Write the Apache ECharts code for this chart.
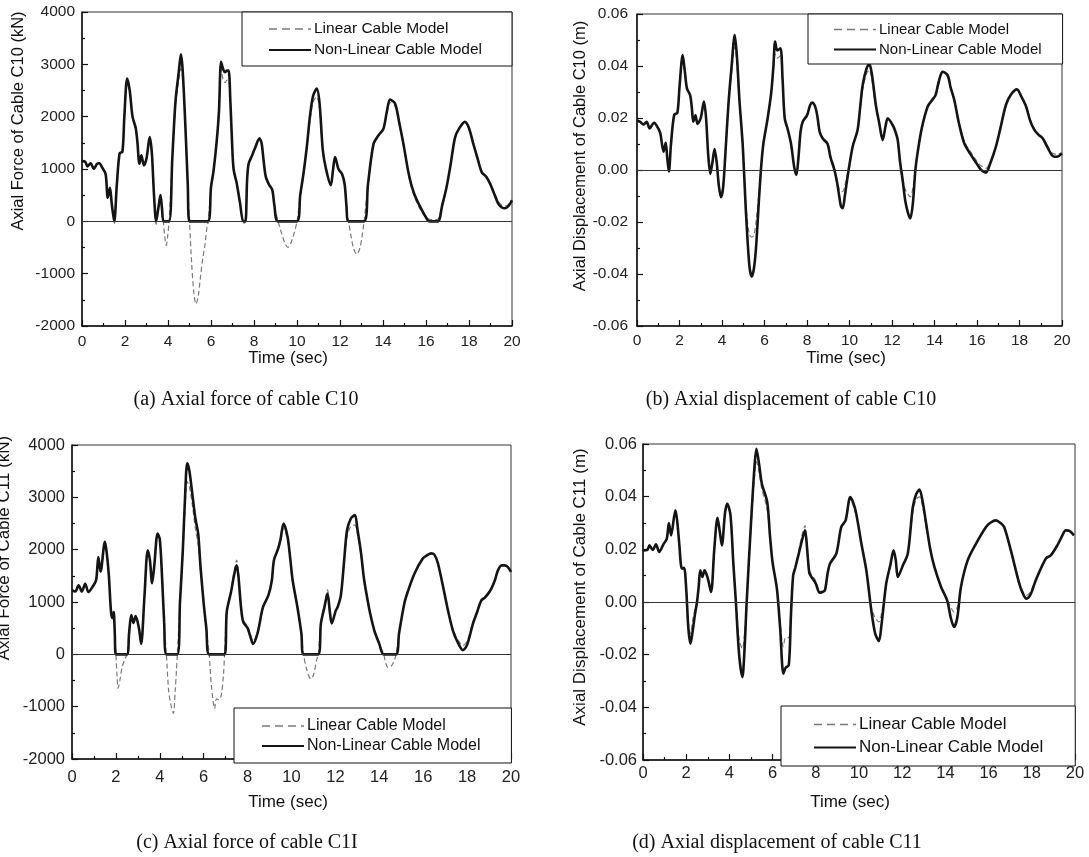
<!DOCTYPE html>
<html>
<head>
<meta charset="utf-8">
<script src="https://cdn.jsdelivr.net/npm/echarts@6/dist/echarts.min.js"></script>
<style>
  html, body { margin: 0; padding: 0; background: #fff; }
  #chart { width: 1089px; height: 857px; }
</style>
</head>
<body>
<div id="chart"></div>
<script>
// time in sec
var linearLabel = 'Linear Cable Model';
var nonLinearLabel = 'Non-Linear Cable Model';

var forceC10NonLinear = [[0,1150],[0.15,1140],[0.25,1050],[0.4,1110],[0.55,1000],[0.7,1100],[0.8,1110],[0.95,1020],[1.1,900],[1.2,450],[1.3,640],[1.38,350],[1.5,0],[1.62,700],[1.75,1300],[1.88,1330],[1.97,2000],[2.1,2730],[2.22,2500],[2.35,2000],[2.5,1780],[2.58,1500],[2.67,1100],[2.76,1260],[2.88,1070],[3.0,1200],[3.15,1610],[3.25,1300],[3.35,500],[3.45,0],[3.55,250],[3.65,500],[3.72,250],[3.8,0],[4.05,0],[4.2,1200],[4.35,2300],[4.5,2850],[4.6,3190],[4.68,2900],[4.8,1900],[4.92,700],[5.0,0],[5.85,0],[6.0,650],[6.12,970],[6.27,1550],[6.37,2100],[6.47,3050],[6.57,2900],[6.65,2850],[6.75,2880],[6.82,2880],[6.9,2300],[6.98,1500],[7.05,1000],[7.2,720],[7.35,350],[7.5,0],[7.6,0],[7.68,800],[7.75,1100],[7.9,1250],[8.05,1400],[8.25,1580],[8.35,1500],[8.45,1150],[8.55,850],[8.7,700],[8.85,600],[8.95,300],[9.12,0],[10.0,0],[10.15,500],[10.3,910],[10.45,1400],[10.6,2000],[10.75,2400],[10.92,2535],[11.05,2250],[11.2,1360],[11.35,1000],[11.57,690],[11.68,1000],[11.77,1230],[11.93,1000],[12.1,900],[12.22,700],[12.3,300],[12.4,0],[13.12,0],[13.3,700],[13.56,1480],[13.8,1650],[14.02,1770],[14.18,2100],[14.33,2325],[14.56,2250],[14.75,1900],[14.95,1480],[15.2,900],[15.42,560],[15.7,300],[16.05,40],[16.15,0],[16.55,0],[16.75,300],[16.96,660],[17.15,1100],[17.35,1600],[17.55,1780],[17.81,1900],[18.0,1780],[18.2,1480],[18.4,1200],[18.59,940],[18.8,850],[18.98,720],[19.15,550],[19.36,340],[19.55,260],[19.67,250],[19.85,300],[20,400]];
var forceC10Linear = [[0,1150],[0.15,1140],[0.25,1050],[0.4,1110],[0.55,1000],[0.7,1100],[0.8,1110],[0.95,1020],[1.1,900],[1.2,450],[1.3,640],[1.38,330],[1.5,-50],[1.62,680],[1.75,1300],[1.88,1330],[1.97,1980],[2.1,2700],[2.22,2480],[2.35,2000],[2.5,1760],[2.58,1500],[2.67,1100],[2.76,1250],[2.88,1070],[3.0,1200],[3.15,1590],[3.25,1300],[3.35,480],[3.45,-60],[3.55,240],[3.65,480],[3.72,230],[3.78,0],[3.85,-300],[3.92,-460],[3.98,-300],[4.05,0],[4.2,1150],[4.35,2200],[4.5,2700],[4.6,2920],[4.68,2750],[4.8,1850],[4.92,650],[5.0,0],[5.1,-800],[5.2,-1350],[5.3,-1580],[5.4,-1450],[5.5,-1100],[5.62,-700],[5.72,-450],[5.8,-150],[5.87,0],[6.0,630],[6.12,950],[6.27,1500],[6.37,2050],[6.47,2900],[6.57,2700],[6.65,2650],[6.75,2700],[6.82,2700],[6.9,2250],[6.98,1480],[7.05,1000],[7.2,720],[7.35,330],[7.5,-50],[7.6,0],[7.68,780],[7.75,1100],[7.9,1260],[8.05,1420],[8.25,1600],[8.35,1520],[8.45,1180],[8.55,880],[8.7,720],[8.85,600],[8.95,300],[9.12,0],[9.3,-250],[9.45,-430],[9.58,-500],[9.7,-430],[9.85,-250],[10.0,0],[10.15,480],[10.3,880],[10.45,1350],[10.6,1900],[10.75,2280],[10.92,2380],[11.05,2150],[11.2,1340],[11.35,1000],[11.57,700],[11.68,1000],[11.77,1200],[11.93,1000],[12.1,880],[12.22,680],[12.3,280],[12.4,0],[12.5,-250],[12.62,-500],[12.78,-630],[12.92,-520],[13.02,-300],[13.12,0],[13.3,680],[13.56,1450],[13.8,1630],[14.02,1760],[14.18,2050],[14.33,2270],[14.56,2200],[14.75,1870],[14.95,1450],[15.2,850],[15.42,520],[15.7,250],[16.05,60],[16.3,30],[16.55,40],[16.75,340],[16.96,680],[17.15,1100],[17.35,1600],[17.55,1780],[17.81,1890],[18.0,1780],[18.2,1490],[18.4,1220],[18.59,970],[18.8,870],[18.98,740],[19.15,580],[19.36,380],[19.55,300],[19.67,290],[19.85,330],[20,420]];

var dispC10NonLinear = [[0,0.019],[0.15,0.0185],[0.3,0.0175],[0.45,0.0185],[0.6,0.016],[0.8,0.0182],[1.0,0.016],[1.1,0.014],[1.25,0.007],[1.35,0.0105],[1.42,0.005],[1.5,-0.0006],[1.6,0.01],[1.75,0.0212],[1.9,0.022],[2.0,0.032],[2.15,0.0442],[2.25,0.038],[2.35,0.0314],[2.5,0.0288],[2.58,0.024],[2.65,0.0186],[2.75,0.021],[2.85,0.0177],[3.0,0.020],[3.15,0.0263],[3.25,0.02],[3.35,0.006],[3.45,-0.0015],[3.55,0.003],[3.65,0.0081],[3.75,0.003],[3.85,-0.006],[3.95,-0.0105],[4.05,-0.007],[4.15,0.005],[4.3,0.025],[4.45,0.0397],[4.6,0.0519],[4.7,0.044],[4.82,0.027],[4.97,0.0103],[5.05,-0.003],[5.13,-0.0167],[5.29,-0.037],[5.4,-0.041],[5.5,-0.038],[5.6,-0.03],[5.75,-0.01],[5.85,0.002],[5.95,0.0103],[6.15,0.02],[6.32,0.03],[6.42,0.04],[6.5,0.0494],[6.6,0.046],[6.75,0.0468],[6.85,0.035],[6.95,0.02],[7.1,0.0154],[7.25,0.01],[7.4,0.001],[7.5,-0.0019],[7.6,0.005],[7.7,0.015],[7.8,0.0186],[8.0,0.021],[8.15,0.025],[8.25,0.0259],[8.4,0.024],[8.5,0.02],[8.6,0.0145],[8.75,0.012],[8.97,0.010],[9.1,0.005],[9.29,0],[9.42,-0.005],[9.52,-0.0103],[9.6,-0.014],[9.68,-0.0147],[9.78,-0.01],[9.91,-0.0026],[10.15,0.009],[10.38,0.0154],[10.5,0.024],[10.62,0.0327],[10.8,0.039],[10.93,0.0408],[11.05,0.037],[11.25,0.0244],[11.4,0.018],[11.56,0.0115],[11.7,0.017],[11.8,0.0199],[12.03,0.0173],[12.15,0.015],[12.27,0.0115],[12.38,0.003],[12.5,-0.0038],[12.65,-0.013],[12.86,-0.0186],[12.98,-0.013],[13.1,0.0],[13.2,0.0064],[13.4,0.016],[13.68,0.0244],[13.9,0.027],[14.05,0.0288],[14.2,0.034],[14.38,0.0378],[14.62,0.0365],[14.75,0.032],[14.93,0.0269],[15.15,0.018],[15.4,0.0103],[15.7,0.006],[16.03,0.0019],[16.2,0.0],[16.42,-0.001],[16.6,0.002],[16.89,0.009],[17.1,0.016],[17.36,0.025],[17.6,0.029],[17.88,0.031],[18.1,0.028],[18.31,0.0244],[18.5,0.019],[18.7,0.0154],[18.9,0.0135],[19.09,0.0122],[19.3,0.009],[19.5,0.006],[19.64,0.0051],[19.8,0.0052],[20.0,0.0064]];
var dispC10Linear = [[0,0.019],[0.15,0.0185],[0.3,0.0175],[0.45,0.0185],[0.6,0.016],[0.8,0.0182],[1.0,0.016],[1.1,0.014],[1.25,0.007],[1.35,0.0105],[1.42,0.005],[1.5,-0.0006],[1.6,0.01],[1.75,0.0212],[1.9,0.022],[2.0,0.032],[2.15,0.0438],[2.25,0.038],[2.35,0.0314],[2.5,0.0288],[2.58,0.024],[2.65,0.0186],[2.75,0.021],[2.85,0.0177],[3.0,0.020],[3.15,0.026],[3.25,0.02],[3.35,0.006],[3.45,-0.0015],[3.55,0.003],[3.65,0.008],[3.75,0.003],[3.85,-0.005],[3.95,-0.0095],[4.05,-0.006],[4.15,0.005],[4.3,0.024],[4.45,0.037],[4.6,0.0474],[4.7,0.041],[4.82,0.026],[4.97,0.0103],[5.05,-0.003],[5.15,-0.016],[5.28,-0.0245],[5.4,-0.0258],[5.5,-0.025],[5.6,-0.02],[5.75,-0.008],[5.85,0.002],[5.95,0.0103],[6.15,0.02],[6.32,0.03],[6.42,0.038],[6.5,0.0445],[6.6,0.043],[6.75,0.044],[6.85,0.034],[6.95,0.02],[7.1,0.0154],[7.25,0.01],[7.4,0.001],[7.5,-0.0015],[7.6,0.005],[7.7,0.015],[7.8,0.0186],[8.0,0.021],[8.15,0.025],[8.25,0.0262],[8.4,0.024],[8.5,0.02],[8.6,0.015],[8.75,0.0125],[8.97,0.0105],[9.1,0.006],[9.29,0.001],[9.42,-0.004],[9.52,-0.0075],[9.6,-0.0083],[9.68,-0.0083],[9.78,-0.006],[9.91,-0.001],[10.15,0.009],[10.38,0.0154],[10.5,0.023],[10.62,0.031],[10.8,0.037],[10.93,0.0385],[11.05,0.035],[11.25,0.0235],[11.4,0.018],[11.56,0.012],[11.7,0.017],[11.8,0.0195],[12.03,0.017],[12.15,0.015],[12.27,0.012],[12.38,0.004],[12.5,-0.003],[12.65,-0.008],[12.86,-0.0103],[12.98,-0.007],[13.1,0.001],[13.2,0.0066],[13.4,0.016],[13.68,0.0244],[13.9,0.027],[14.05,0.0288],[14.2,0.033],[14.38,0.037],[14.62,0.0358],[14.75,0.032],[14.93,0.027],[15.15,0.0185],[15.4,0.011],[15.7,0.007],[16.03,0.003],[16.2,0.0015],[16.42,0.0006],[16.6,0.0025],[16.89,0.009],[17.1,0.016],[17.36,0.025],[17.6,0.029],[17.88,0.031],[18.1,0.028],[18.31,0.0248],[18.5,0.0195],[18.7,0.0158],[18.9,0.0138],[19.09,0.0125],[19.3,0.0095],[19.5,0.0068],[19.64,0.0062],[19.8,0.006],[20.0,0.0068]];

var forceC11NonLinear = [[0,1225],[0.15,1200],[0.3,1320],[0.45,1200],[0.6,1350],[0.75,1190],[0.95,1300],[1.1,1420],[1.2,1860],[1.3,1580],[1.5,2150],[1.58,1950],[1.68,1500],[1.78,800],[1.85,690],[1.9,810],[1.95,400],[2.0,0],[2.5,0],[2.6,400],[2.7,750],[2.8,600],[2.9,730],[3.05,500],[3.15,200],[3.3,1100],[3.45,1990],[3.55,1800],[3.65,1360],[3.75,1700],[3.9,2310],[4.0,2200],[4.1,1500],[4.2,600],[4.3,0],[4.8,0],[4.92,1000],[5.05,2000],[5.15,3000],[5.25,3650],[5.35,3500],[5.5,3000],[5.62,2600],[5.75,2300],[5.85,1700],[6.0,970],[6.12,500],[6.25,0],[6.95,0],[7.05,810],[7.25,1200],[7.4,1550],[7.5,1700],[7.58,1500],[7.7,900],[7.8,620],[8.0,500],[8.12,350],[8.25,200],[8.45,400],[8.7,900],[8.95,1130],[9.1,1400],[9.2,1800],[9.39,2020],[9.5,2200],[9.64,2500],[9.82,2245],[9.95,1800],[10.05,1420],[10.27,900],[10.45,400],[10.55,0],[11.22,0],[11.34,590],[11.5,900],[11.64,1160],[11.75,800],[11.83,590],[12.02,840],[12.1,900],[12.25,1130],[12.4,1800],[12.53,2370],[12.71,2600],[12.89,2660],[13.0,2400],[13.17,1930],[13.3,1450],[13.47,1030],[13.6,750],[13.77,460],[14.0,200],[14.2,0],[14.76,0],[14.9,400],[15.14,970],[15.3,1200],[15.6,1540],[15.98,1830],[16.2,1900],[16.36,1930],[16.5,1910],[16.67,1740],[16.97,1160],[17.15,800],[17.35,460],[17.55,250],[17.81,80],[18.0,180],[18.27,590],[18.45,800],[18.65,1030],[18.8,1080],[18.96,1160],[19.1,1250],[19.27,1420],[19.4,1600],[19.57,1700],[19.7,1700],[19.85,1670],[20.0,1576]];
var forceC11Linear = [[0,1225],[0.15,1200],[0.3,1320],[0.45,1200],[0.6,1350],[0.75,1190],[0.95,1300],[1.1,1420],[1.2,1840],[1.3,1580],[1.5,2120],[1.58,1950],[1.68,1500],[1.78,800],[1.85,690],[1.9,810],[1.95,400],[2.0,0],[2.05,-400],[2.1,-650],[2.18,-500],[2.28,-250],[2.4,-100],[2.5,0],[2.6,400],[2.7,750],[2.8,600],[2.9,730],[3.05,500],[3.15,200],[3.3,1100],[3.45,1970],[3.55,1800],[3.65,1360],[3.75,1700],[3.9,2290],[4.0,2200],[4.1,1500],[4.2,600],[4.3,0],[4.4,-680],[4.5,-950],[4.62,-1130],[4.7,-700],[4.76,-300],[4.8,0],[4.92,950],[5.05,1900],[5.15,2800],[5.25,3300],[5.35,3200],[5.5,2800],[5.62,2400],[5.75,2100],[5.85,1600],[6.0,950],[6.12,480],[6.25,0],[6.35,-600],[6.5,-1040],[6.58,-850],[6.7,-870],[6.8,-780],[6.9,-400],[6.95,0],[7.05,820],[7.25,1250],[7.4,1620],[7.5,1800],[7.58,1580],[7.7,950],[7.8,660],[8.0,540],[8.12,380],[8.25,250],[8.45,420],[8.7,900],[8.95,1130],[9.1,1400],[9.2,1780],[9.39,2000],[9.5,2150],[9.64,2400],[9.82,2200],[9.95,1780],[10.05,1400],[10.27,880],[10.45,380],[10.55,0],[10.7,-300],[10.88,-470],[11.0,-400],[11.15,-100],[11.22,0],[11.34,620],[11.5,950],[11.64,1230],[11.75,830],[11.83,600],[12.02,840],[12.1,900],[12.25,1130],[12.4,1750],[12.53,2250],[12.71,2450],[12.89,2470],[13.0,2300],[13.17,1880],[13.3,1420],[13.47,1030],[13.6,760],[13.77,470],[14.0,200],[14.2,0],[14.3,-180],[14.4,-250],[14.55,-220],[14.7,-100],[14.76,0],[14.9,400],[15.14,970],[15.3,1200],[15.6,1540],[15.98,1830],[16.2,1900],[16.36,1930],[16.5,1910],[16.67,1740],[16.97,1160],[17.15,800],[17.35,480],[17.55,300],[17.81,170],[18.0,250],[18.27,620],[18.45,820],[18.65,1050],[18.8,1100],[18.96,1170],[19.1,1260],[19.27,1420],[19.4,1600],[19.57,1700],[19.7,1700],[19.85,1670],[20.0,1576]];

var dispC11NonLinear = [[0,0.0196],[0.2,0.0198],[0.3,0.0215],[0.45,0.0198],[0.6,0.0219],[0.75,0.019],[0.95,0.022],[1.1,0.024],[1.2,0.030],[1.3,0.0253],[1.5,0.0348],[1.58,0.031],[1.68,0.022],[1.8,0.0127],[1.9,0.013],[2.0,0.005],[2.1,-0.01],[2.2,-0.0158],[2.3,-0.011],[2.4,-0.005],[2.5,0.0],[2.58,0.006],[2.65,0.012],[2.75,0.0095],[2.85,0.012],[3.0,0.009],[3.15,0.0038],[3.3,0.02],[3.45,0.032],[3.55,0.027],[3.65,0.0215],[3.8,0.034],[3.9,0.0373],[4.05,0.033],[4.18,0.015],[4.3,0.0],[4.45,-0.02],[4.6,-0.0285],[4.7,-0.018],[4.8,0.0],[5.0,0.03],[5.15,0.05],[5.25,0.0582],[5.38,0.052],[5.5,0.045],[5.75,0.038],[5.88,0.025],[6.0,0.015],[6.2,0.005],[6.35,-0.01],[6.5,-0.0272],[6.6,-0.025],[6.75,-0.024],[6.85,-0.005],[6.95,0.01],[7.05,0.013],[7.2,0.018],[7.35,0.023],[7.5,0.0272],[7.6,0.02],[7.7,0.011],[7.8,0.0095],[8.0,0.007],[8.18,0.0035],[8.3,0.0038],[8.42,0.0044],[8.55,0.011],[8.66,0.0146],[8.95,0.0184],[9.18,0.0285],[9.38,0.031],[9.6,0.0399],[9.8,0.036],[9.95,0.03],[10.11,0.0222],[10.34,0.012],[10.57,-0.0032],[10.75,-0.012],[10.92,-0.0148],[11.05,-0.008],[11.26,0.007],[11.45,0.014],[11.6,0.0196],[11.7,0.016],[11.8,0.0095],[12.03,0.0139],[12.26,0.0184],[12.49,0.036],[12.65,0.041],[12.8,0.0427],[12.95,0.038],[13.11,0.0297],[13.3,0.02],[13.49,0.0133],[13.8,0.0057],[14.08,0.0006],[14.25,-0.006],[14.4,-0.0095],[14.55,-0.006],[14.72,0.0057],[15.03,0.0158],[15.42,0.0222],[15.88,0.0285],[16.1,0.0302],[16.34,0.031],[16.55,0.030],[16.72,0.0285],[17.03,0.0196],[17.42,0.007],[17.6,0.003],[17.75,0.0013],[17.95,0.003],[18.18,0.0082],[18.65,0.0165],[18.88,0.0177],[19.18,0.0215],[19.4,0.025],[19.57,0.0272],[19.75,0.027],[19.95,0.0253]];
var dispC11Linear = [[0,0.0196],[0.2,0.0198],[0.3,0.0215],[0.45,0.0198],[0.6,0.0219],[0.75,0.019],[0.95,0.022],[1.1,0.024],[1.2,0.0295],[1.3,0.0253],[1.5,0.034],[1.58,0.031],[1.68,0.022],[1.8,0.0127],[1.9,0.013],[2.0,0.005],[2.1,-0.008],[2.2,-0.012],[2.3,-0.007],[2.4,-0.003],[2.5,0.0],[2.58,0.006],[2.65,0.012],[2.75,0.0095],[2.85,0.012],[3.0,0.009],[3.15,0.0045],[3.3,0.02],[3.45,0.031],[3.55,0.027],[3.65,0.022],[3.8,0.034],[3.9,0.0368],[4.05,0.033],[4.18,0.015],[4.3,0.0],[4.45,-0.014],[4.6,-0.0177],[4.7,-0.012],[4.8,0.0],[5.0,0.028],[5.15,0.046],[5.25,0.0532],[5.38,0.049],[5.5,0.043],[5.75,0.035],[5.88,0.024],[6.0,0.015],[6.2,0.005],[6.35,-0.008],[6.5,-0.017],[6.6,-0.0135],[6.75,-0.0135],[6.85,-0.002],[6.95,0.01],[7.05,0.013],[7.2,0.019],[7.35,0.025],[7.5,0.029],[7.6,0.021],[7.7,0.012],[7.8,0.0105],[8.0,0.008],[8.18,0.004],[8.3,0.004],[8.42,0.0046],[8.55,0.011],[8.66,0.0146],[8.95,0.0184],[9.18,0.0285],[9.38,0.031],[9.6,0.0389],[9.8,0.035],[9.95,0.03],[10.11,0.0222],[10.34,0.012],[10.57,-0.002],[10.75,-0.006],[10.92,-0.0076],[11.05,-0.004],[11.26,0.007],[11.45,0.014],[11.6,0.0196],[11.7,0.016],[11.8,0.0098],[12.03,0.0139],[12.26,0.0184],[12.49,0.034],[12.65,0.039],[12.8,0.0399],[12.95,0.036],[13.11,0.0285],[13.3,0.02],[13.49,0.0133],[13.8,0.0057],[14.08,0.001],[14.25,-0.002],[14.4,-0.0038],[14.55,-0.002],[14.72,0.0057],[15.03,0.0158],[15.42,0.0222],[15.88,0.0285],[16.1,0.0302],[16.34,0.031],[16.55,0.030],[16.72,0.0285],[17.03,0.0196],[17.42,0.0075],[17.6,0.0038],[17.75,0.0025],[17.95,0.004],[18.18,0.0088],[18.65,0.0168],[18.88,0.0178],[19.18,0.0215],[19.4,0.025],[19.57,0.0272],[19.75,0.027],[19.95,0.0253]];

var timeTicks = [0, 20, 2];
var forceTicks = [-2000, 4000, 1000];
var dispTicks = [-0.06, 0.06, 0.02];

var sans = '"Liberation Sans", Arial, sans-serif';
var serif = '"Liberation Serif", "Times New Roman", serif';

var chart = echarts.init(document.getElementById('chart'));

function xAxisFor(gi, fontSize, margin) {
    return {
        type: 'value', gridIndex: gi,
        min: timeTicks[0], max: timeTicks[1], interval: timeTicks[2],
        axisLine: { onZero: false, lineStyle: { color: '#111', width: 1.5 } },
        axisTick: { inside: true, length: 6, lineStyle: { color: '#111', width: 1.2 } },
        minorTick: { show: true, splitNumber: 2, length: 3, lineStyle: { color: '#111', width: 1.2 } },
        axisLabel: { color: '#222', fontSize: fontSize, fontFamily: sans, margin: margin },
        splitLine: { show: false }
    };
}

function yAxisFor(gi, ticks, digits, fontSize, margin) {
    return {
        type: 'value', gridIndex: gi,
        min: ticks[0], max: ticks[1], interval: ticks[2],
        axisLine: { lineStyle: { color: '#111', width: 1.5 } },
        axisTick: { inside: true, length: 6, lineStyle: { color: '#111', width: 1.2 } },
        minorTick: { show: true, splitNumber: 2, length: 3, lineStyle: { color: '#111', width: 1.2 } },
        axisLabel: {
            color: '#222', fontSize: fontSize, fontFamily: sans, margin: margin,
            formatter: function (v) { return v.toFixed(digits); }
        },
        splitLine: { show: false }
    };
}

function linearSeries(gi, data) {
    return {
        name: linearLabel, type: 'line', xAxisIndex: gi, yAxisIndex: gi,
        data: data, symbol: 'none', smooth: 0.3,
        lineStyle: { color: '#7a7a7a', width: 1.2, type: [5, 3] },
        itemStyle: { color: '#7a7a7a' },
        markLine: {
            silent: true, symbol: ['none', 'none'], label: { show: false },
            lineStyle: { color: '#333', width: 1, type: 'solid' },
            data: [{ yAxis: 0 }]
        }
    };
}

function nonLinearSeries(gi, data) {
    return {
        name: nonLinearLabel, type: 'line', xAxisIndex: gi, yAxisIndex: gi,
        data: data, symbol: 'none', smooth: 0.3,
        lineStyle: { color: '#141414', width: 2.6 },
        itemStyle: { color: '#141414' }
    };
}

function legendAt(left, top, padding, fontSize, gap) {
    return {
        data: [
            { name: linearLabel, lineStyle: { type: [8, 5], width: 1.3 } },
            { name: nonLinearLabel }
        ],
        orient: 'vertical', left: left, top: top,
        padding: padding, itemGap: gap, itemWidth: 42, itemHeight: 14,
        backgroundColor: '#fff', borderColor: '#111', borderWidth: 1,
        itemStyle: { opacity: 0, borderWidth: 0 },
        textStyle: { fontSize: fontSize, fontFamily: sans, color: '#111', padding: [0, 0, 0, -2] },
        selectedMode: false
    };
}

function label(x, y, text, size, font, rotate) {
    return {
        type: 'text', x: x, y: y, rotation: rotate ? Math.PI / 2 : 0,
        style: {
            text: text, fontSize: size, fontFamily: font, fill: '#111',
            textAlign: 'center', textVerticalAlign: 'middle'
        }
    };
}

chart.setOption({
    animation: false,
    backgroundColor: '#fff',
    grid: [
        { left: 82, top: 12, width: 430, height: 314, show: true, borderColor: '#333', borderWidth: 1 },
        { left: 637, top: 14, width: 425, height: 312, show: true, borderColor: '#333', borderWidth: 1 },
        { left: 72, top: 445, width: 439, height: 314, show: true, borderColor: '#333', borderWidth: 1 },
        { left: 643, top: 444, width: 432, height: 316, show: true, borderColor: '#333', borderWidth: 1 }
    ],
    xAxis: [
        xAxisFor(0, 15.5, 8),
        xAxisFor(1, 15.5, 7),
        xAxisFor(2, 16.5, 10),
        xAxisFor(3, 16.5, 5)
    ],
    yAxis: [
        yAxisFor(0, forceTicks, 0, 15.5, 7),
        yAxisFor(1, dispTicks, 2, 15.5, 9),
        yAxisFor(2, forceTicks, 0, 16.5, 7),
        yAxisFor(3, dispTicks, 2, 16.5, 6)
    ],
    legend: [
        legendAt(242, 12, [9, 30, 8, 26], 15.5, 5),
        legendAt(808, 14, [8, 21, 7, 25], 15, 5),
        legendAt(234, 708, [10, 31, 9, 27], 16, 4),
        legendAt(781, 706, [10, 32, 10, 32], 17, 6)
    ],
    series: [
        linearSeries(0, forceC10Linear), nonLinearSeries(0, forceC10NonLinear),
        linearSeries(1, dispC10Linear), nonLinearSeries(1, dispC10NonLinear),
        linearSeries(2, forceC11Linear), nonLinearSeries(2, forceC11NonLinear),
        linearSeries(3, dispC11Linear), nonLinearSeries(3, dispC11NonLinear)
    ],
    graphic: [
        label(18.5, 121, 'Axial Force of Cable C10 (kN)', 16.5, sans, true),
        label(580, 156, 'Axial Displacement of Cable C10 (m)', 16.5, sans, true),
        label(4, 548, 'Axial Force of Cable C11 (kN)', 17, sans, true),
        label(580, 587, 'Axial Displacement of Cable C11 (m)', 17, sans, true),
        label(288, 358, 'Time (sec)', 17, sans),
        label(846, 358, 'Time (sec)', 17, sans),
        label(288, 802, 'Time (sec)', 17, sans),
        label(850, 802, 'Time (sec)', 17, sans),
        label(246, 400, '(a) Axial force of cable C10', 20, serif),
        label(791, 400, '(b) Axial displacement of cable C10', 20, serif),
        label(247, 843, '(c) Axial force of cable C1I', 20, serif),
        label(777, 843, '(d) Axial displacement of cable C11', 20, serif)
    ]
});
</script>
</body>
</html>
